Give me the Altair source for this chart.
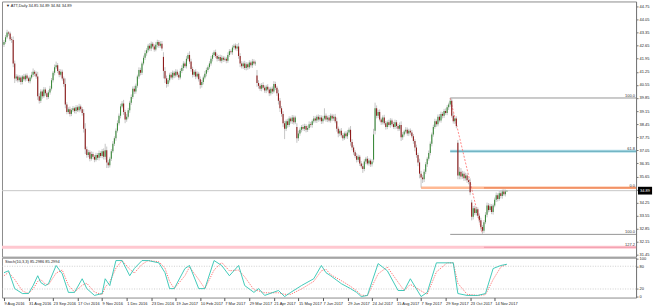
import json
import altair as alt
import pandas as pd

FONT = "Liberation Sans"

# ---------------- data ----------------
close = [
    42.85, 43.10, 43.35, 43.30, 43.00, 42.95, 41.70, 40.90, 41.00, 40.80,
    40.95, 40.70, 41.00, 40.85, 41.05, 40.90, 40.75, 40.95, 41.10, 41.25,
    41.15, 41.00, 39.95, 39.70, 40.20, 39.95, 40.30, 40.10, 39.90, 40.15,
    40.35, 40.80, 41.20, 41.50, 41.60, 41.30, 41.10, 41.25, 40.90, 40.60,
    39.50, 39.10, 39.25, 39.00, 39.20, 39.30, 39.15, 39.35, 39.20, 39.40,
    39.25, 39.05, 38.20, 37.10, 36.80, 36.95, 36.60, 36.85, 36.70, 36.55,
    36.80, 36.65, 36.90, 36.75, 37.00, 36.70, 37.05, 36.40, 36.25, 36.60,
    37.00, 37.40, 37.70, 38.10, 38.50, 38.90, 39.40, 39.55, 39.10, 38.70,
    38.85, 39.20, 39.60, 39.90, 40.35, 40.20, 40.50, 41.00, 41.35, 41.20,
    41.70, 42.00, 42.25, 42.40, 42.65, 42.50, 42.75, 42.60, 42.45, 42.70,
    42.85, 42.65, 42.75, 42.50, 41.30, 40.90, 40.60, 40.80, 41.10, 40.95,
    41.20, 41.05, 41.25, 41.10, 40.95, 41.30, 41.45, 41.70, 41.55, 41.95,
    42.15, 41.80, 41.40, 41.10, 41.25, 41.00, 41.15, 40.85, 40.55, 40.70,
    40.95, 41.15, 41.35, 41.50, 41.70, 41.95, 42.15, 42.30, 42.10, 41.95,
    42.05, 41.85, 42.00, 41.90, 41.95, 41.85, 42.15, 42.35, 42.30, 42.55,
    42.65, 42.50, 42.60, 42.10, 41.70, 41.55, 41.70, 41.45, 41.65, 41.50,
    41.75, 41.60, 41.80, 41.70, 41.75, 40.65, 40.50, 40.35, 40.55, 40.40,
    40.25, 40.45, 40.30, 40.10, 40.35, 40.20, 40.60, 40.40, 40.10, 39.70,
    39.30, 39.00, 38.50, 38.20, 38.60, 38.40, 38.75, 38.60, 38.80, 38.55,
    38.80, 37.70, 37.95, 38.15, 38.30, 38.20, 38.35, 38.15, 38.25, 38.45,
    38.40, 38.60, 38.75, 38.65, 38.85, 38.70, 38.80, 38.60, 38.75, 38.90,
    38.70, 38.80, 38.65, 38.90, 38.75, 38.85, 38.60, 38.20, 37.95, 38.10,
    37.85, 37.70, 37.95, 37.80, 38.00, 38.15, 37.50, 37.20, 36.95, 36.75,
    36.55, 36.70, 36.35, 36.20, 36.05, 36.45, 36.60, 36.35, 36.50, 36.30,
    36.45, 37.90, 39.30, 38.90, 39.10, 38.70, 38.55, 38.80, 38.50, 38.30,
    38.55, 38.40, 38.65, 38.45, 38.30, 38.55, 38.35, 38.20, 38.40, 37.75,
    37.90, 38.05, 38.15, 37.95, 38.10, 38.00, 37.80, 37.55, 37.20, 36.80,
    36.40, 35.80, 35.60, 35.50, 35.90, 36.30, 36.60, 36.90, 37.40, 37.90,
    38.30, 38.60, 38.45, 38.85, 38.65, 39.00, 38.90, 39.15, 39.05, 39.35,
    39.50, 39.70, 38.90, 38.60, 38.75, 38.35, 35.70, 35.90, 35.65, 35.80,
    35.55, 35.70, 35.45, 35.35, 34.80, 33.50, 33.95, 33.70, 33.90, 33.55,
    33.30, 32.95, 32.75, 33.20, 33.60, 34.10, 33.85, 34.05, 33.75, 34.10,
    34.40, 34.65, 34.45, 34.75, 34.60, 34.85, 34.70, 34.85, 34.89,
]

# upper / lower wick lengths in cents
wick_hi = [
    10, 12, 15, 8, 10, 12, 20, 15, 12, 10,
    12, 10, 8, 14, 10, 12, 9, 11, 15, 18,
    10, 12, 25, 15, 12, 10, 14, 12, 10, 12,
    15, 12, 10, 14, 20, 12, 10, 14, 12, 10,
    30, 12, 10, 14, 10, 12, 8, 12, 10, 14,
    10, 12, 20, 30, 15, 12, 10, 14, 12, 10,
    12, 10, 14, 10, 12, 15, 35, 20, 12, 10,
    12, 14, 10, 12, 15, 12, 14, 13, 20, 12,
    15, 12, 10, 14, 12, 15, 12, 10, 14, 12,
    10, 12, 15, 12, 10, 14, 12, 10, 12, 15,
    12, 10, 14, 15, 25, 20, 15, 12, 10, 14,
    12, 10, 14, 12, 10, 12, 15, 12, 10, 14,
    12, 20, 15, 12, 10, 14, 12, 10, 15, 12,
    10, 14, 12, 10, 12, 15, 12, 10, 14, 12,
    10, 12, 14, 10, 12, 10, 14, 12, 10, 12,
    10, 12, 14, 20, 15, 12, 10, 14, 12, 10,
    12, 10, 14, 12, 10, 30, 15, 12, 10, 14,
    12, 10, 14, 12, 10, 12, 15, 12, 10, 20,
    15, 12, 14, 12, 10, 14, 12, 10, 14, 12,
    10, 20, 15, 12, 10, 14, 12, 10, 12, 15,
    12, 10, 14, 12, 10, 12, 14, 12, 15, 40,
    12, 10, 14, 12, 10, 12, 15, 20, 12, 10,
    14, 12, 10, 12, 14, 12, 20, 15, 12, 10,
    14, 12, 10, 12, 14, 12, 10, 14, 12, 10,
    12, 30, 30, 15, 12, 14, 10, 12, 15, 12,
    10, 14, 12, 10, 12, 14, 12, 10, 14, 20,
    12, 10, 14, 12, 10, 12, 14, 12, 10, 15,
    12, 20, 15, 12, 14, 12, 10, 14, 12, 10,
    12, 14, 10, 12, 14, 12, 10, 12, 14, 12,
    10, 15, 12, 14, 10, 12, 15, 25, 20, 15,
    12, 15, 12, 14, 20, 15, 12, 14, 12, 10,
    12, 14, 10, 12, 14, 15, 12, 14, 12, 10,
    12, 14, 10, 12, 14, 10, 12, 10, 0,
]
wick_lo = [
    12, 10, 8, 12, 10, 15, 20, 25, 15, 12,
    10, 14, 12, 10, 12, 14, 10, 12, 10, 12,
    14, 12, 20, 15, 12, 14, 10, 12, 14, 10,
    12, 10, 12, 14, 10, 12, 14, 10, 12, 15,
    20, 12, 10, 14, 12, 10, 12, 14, 10, 12,
    12, 14, 20, 25, 15, 12, 14, 10, 12, 14,
    10, 12, 14, 10, 12, 14, 15, 30, 15, 12,
    12, 10, 12, 14, 10, 12, 14, 10, 15, 20,
    12, 10, 14, 12, 10, 14, 12, 10, 12, 14,
    12, 10, 12, 14, 10, 12, 14, 10, 12, 10,
    14, 12, 10, 12, 40, 25, 20, 14, 12, 10,
    12, 14, 10, 12, 14, 10, 12, 14, 10, 12,
    10, 12, 14, 15, 12, 14, 10, 12, 20, 14,
    12, 10, 14, 12, 10, 12, 14, 10, 12, 14,
    12, 10, 14, 12, 10, 14, 12, 10, 12, 14,
    12, 10, 14, 15, 20, 12, 14, 10, 12, 14,
    10, 12, 14, 10, 12, 20, 15, 12, 14, 10,
    12, 14, 10, 15, 12, 14, 10, 12, 14, 20,
    20, 15, 20, 55, 12, 14, 10, 12, 14, 12,
    10, 25, 15, 12, 14, 10, 12, 14, 12, 10,
    12, 14, 10, 12, 14, 12, 10, 14, 12, 10,
    12, 14, 10, 12, 14, 12, 10, 15, 20, 14,
    12, 14, 10, 12, 14, 12, 20, 15, 14, 12,
    15, 12, 14, 12, 21, 12, 14, 10, 12, 14,
    12, 15, 20, 14, 12, 10, 14, 12, 10, 14,
    12, 10, 14, 12, 10, 12, 14, 12, 10, 20,
    14, 12, 10, 12, 14, 12, 10, 15, 20, 15,
    20, 25, 55, 20, 15, 12, 14, 10, 12, 14,
    12, 10, 14, 12, 10, 12, 14, 12, 10, 12,
    14, 12, 10, 12, 14, 12, 20, 20, 15, 12,
    14, 12, 14, 12, 15, 20, 15, 12, 14, 12,
    15, 20, 17, 12, 10, 14, 12, 10, 12, 14,
    10, 12, 14, 10, 12, 14, 10, 12, 1,
]
first_open = 42.70
gap_open = {104: 42.05, 165: 41.05, 191: 38.30, 241: 36.55, 242: 38.10,
            296: 37.45, 305: 34.25}

date_labels = ["9 Aug 2016", "31 Aug 2016", "23 Sep 2016", "17 Oct 2016",
               "9 Nov 2016", "1 Dec 2016", "23 Dec 2016", "19 Jan 2017",
               "10 Feb 2017", "7 Mar 2017", "29 Mar 2017", "21 Apr 2017",
               "15 May 2017", "7 Jun 2017", "29 Jun 2017", "24 Jul 2017",
               "15 Aug 2017", "7 Sep 2017", "29 Sep 2017", "23 Oct 2017",
               "14 Nov 2017"]
label_step = 16

price_ticks = [44.75, 44.05, 43.35, 42.65, 41.95, 41.25, 40.55, 39.85, 39.15,
               38.45, 37.75, 37.05, 36.35, 35.65, 34.95, 34.25, 33.55, 32.85,
               32.15, 31.45]

fib_names = ["100.0", "61.8", "0.0", "100.0", "127.2"]
fib_prices = [39.85, 37.00, 35.04, 32.55, 31.86]
fib_start = [291, 291, 272, 291, -1.3]

trend_bars = [291, 312]
trend_prices = [39.85, 32.58]

stoch_idx = [0, 3, 7, 12, 16, 19, 22, 24, 27, 29, 34, 38, 42, 46, 51, 54, 59,
             64, 66, 69, 73, 77, 82, 85, 90, 94, 101, 105, 108, 111, 118, 121,
             127, 131, 137, 142, 147, 153, 157, 163, 166, 170, 179, 183, 187,
             194, 202, 207, 210, 213, 220, 226, 230, 233, 237, 244, 250, 257,
             261, 265, 272, 276, 282, 289, 293, 296, 302, 309, 314, 319, 324,
             328]
stoch_main = [63, 68, 21, 8, 8, 29, 55, 37, 29, 34, 82, 60, 11, 11, 47, 21, 3,
              8, 47, 29, 95, 95, 55, 74, 95, 95, 89, 63, 21, 21, 74, 82, 21,
              21, 95, 82, 55, 82, 29, 11, 21, 3, 16, 0, 11, 29, 47, 82, 63,
              55, 34, 21, 11, 0, 3, 87, 68, 16, 16, 47, 0, 11, 89, 89, 89, 8,
              3, 3, 8, 74, 82, 85.3]
stoch_signal = [55, 64, 45, 15, 8, 20, 40, 45, 33, 31, 62, 70, 30, 12, 30, 35,
                12, 5, 25, 38, 75, 95, 72, 62, 85, 95, 92, 75, 40, 21, 55, 78,
                45, 21, 70, 90, 68, 70, 52, 18, 15, 10, 10, 6, 6, 20, 40, 68,
                72, 58, 42, 27, 15, 4, 2, 60, 78, 38, 16, 32, 15, 6, 65, 89,
                89, 35, 6, 3, 5, 45, 78, 85.3]
stoch_levels = [80, 20]
stoch_ticks = [100, 80, 20, 0]
stoch_title = "Stoch(10,3,3) 85.2986 85.2994"
symbol = "ATT,Daily"

# ---------------- tables ----------------
rows = []
for i, c in enumerate(close):
    o = gap_open.get(i, close[i - 1] if i > 0 else first_open)
    rows.append(dict(i=i, o=o, c=c,
                     h=round(max(o, c) + wick_hi[i] / 100, 2),
                     l=round(min(o, c) - wick_lo[i] / 100, 2),
                     d="up" if c >= o else "down"))
bars = pd.DataFrame(rows)
last = bars.iloc[[-1]].copy()
lo_, hi_, ll_, cc_ = last.o.iloc[0], last.h.iloc[0], last.l.iloc[0], last.c.iloc[0]
title_df = pd.DataFrame({"t": [f"\u25BC {symbol}  {lo_:.2f} {hi_:.2f} {ll_:.2f} {cc_:.2f}"]})
last["lab"] = f"{cc_:.2f}"

fib = pd.DataFrame({"name": fib_names, "p": fib_prices, "s": fib_start})
fib["s2"] = trend_bars[1] + 1
trend = pd.DataFrame({"x1": [trend_bars[0]], "x2": [trend_bars[1]],
                      "y1": [trend_prices[0]], "y2": [trend_prices[1]]})
stoch = pd.DataFrame({"i": stoch_idx, "m": stoch_main, "s": stoch_signal})
levels = pd.DataFrame({"v": stoch_levels})
stitle = pd.DataFrame({"t": [stoch_title]})

# ---------------- scales / axes ----------------
W = 636
x_scale = alt.Scale(domain=[-1.3, 412.2], nice=False, zero=False)
y_main = alt.Scale(domain=[31.356, 45.017], nice=False, zero=False)
y_sto = alt.Scale(domain=[-2.6, 102.6], nice=False, zero=False)

yaxis = alt.Axis(orient="right", values=price_ticks, format=".2f",
                 labelFontSize=4, labelFont=FONT, labelColor="#222",
                 tickSize=2, tickColor="#777", domainColor="#777",
                 labelPadding=1, grid=False, title=None, labelFlush=False,
                 labelOverlap=False)
saxis = alt.Axis(orient="right", values=stoch_ticks, format="d",
                 labelFontSize=4, labelFont=FONT, labelColor="#222",
                 tickSize=2, tickColor="#777", domainColor="#777",
                 labelPadding=1, grid=False, title=None, labelFlush=False,
                 labelOverlap=False)
xaxis = alt.Axis(orient="bottom", values=list(range(0, label_step * len(date_labels), label_step)),
                 labelExpr=json.dumps(date_labels) + f"[round(datum.value/{label_step})]",
                 labelAlign="left", labelBaseline="top", labelFontSize=4,
                 labelFont=FONT, labelColor="#222", tickSize=3,
                 tickColor="#555", labelPadding=0.5, domain=False, grid=False,
                 title=None, labelFlush=False, labelOverlap=False)


def X(f):
    return alt.X(f, type="quantitative", scale=x_scale, axis=None)


def XS(f):
    return alt.X(f, type="quantitative", scale=x_scale, axis=xaxis)


def Y(f):
    return alt.Y(f, type="quantitative", scale=y_main, axis=yaxis)


def YS(f):
    return alt.Y(f, type="quantitative", scale=y_sto, axis=saxis)


pink = fib[fib.name == "127.2"]
orange = fib[fib.name == "0.0"]
teal = fib[fib.name == "61.8"]
gray = fib[fib.name == "100.0"]

layers = [
    alt.Chart(pink).mark_rule(color="#ffc8d0", strokeWidth=3).encode(y=Y("p")),
    alt.Chart(pink).mark_rule(color="#f09aaa", strokeWidth=1).encode(
        x=X("s2"), x2=alt.value(W), y=Y("p")),
    alt.Chart(last).mark_rule(color="#c8c8c8", strokeWidth=1).encode(y=Y("c")),
    alt.Chart(orange).mark_rule(color="#ffb994", strokeWidth=2.5).encode(
        x=X("s"), x2=alt.value(W), y=Y("p")),
    alt.Chart(orange).mark_rule(color="#ec8658", strokeWidth=1.2).encode(
        x=X("s2"), x2=alt.value(W), y=Y("p")),
    alt.Chart(teal).mark_rule(color="#b6e0ea", strokeWidth=3).encode(
        x=X("s"), x2=alt.value(W), y=Y("p")),
    alt.Chart(teal).mark_rule(color="#5aa6b6", strokeWidth=1).encode(
        x=X("s"), x2=alt.value(W), y=Y("p")),
    alt.Chart(gray).mark_rule(color="#8a8a8a", strokeWidth=0.9).encode(
        x=X("s"), x2=alt.value(W), y=Y("p")),
    alt.Chart(trend).mark_rule(color="#ff6b6b", strokeWidth=0.8,
                               strokeDash=[2, 1.5]).encode(
        x=X("x1"), x2="x2", y=Y("y1"), y2="y2"),
    alt.Chart(bars).mark_rule(color="#a0a0a0", strokeWidth=0.6).encode(
        x=X("i"), y=Y("l"), y2="h"),
    alt.Chart(bars).mark_rule(strokeWidth=1.1, strokeCap="butt").encode(
        x=X("i"), y=Y("o"), y2="c",
        color=alt.Color("d:N", scale=alt.Scale(domain=["up", "down"],
                                               range=["#3d8b3d", "#8e1c1c"]),
                        legend=None)),
    alt.Chart(fib).mark_text(align="right", baseline="bottom", dy=-0.3,
                             fontSize=4, font=FONT, color="#333").encode(
        x=alt.value(635), y=Y("p"), text="name:N"),
    alt.Chart(title_df).mark_text(align="left", baseline="middle", fontSize=4,
                                  font=FONT, color="#222").encode(
        x=alt.value(4), y=alt.value(5), text="t:N"),
    alt.Chart(last).mark_point(shape="M-1,-0.55H1V0.55H-1Z", size=200,
                               filled=True, color="#000", opacity=1,
                               strokeWidth=0).encode(x=alt.value(645), y=Y("c")),
    alt.Chart(last).mark_text(align="center", baseline="middle", fontSize=4,
                              font=FONT, color="#fff").encode(
        x=alt.value(645), y=Y("c"), text="lab:N"),
]
main = alt.layer(*layers).properties(width=W, height=256)

sto_layers = [
    alt.Chart(levels).mark_rule(color="#b8b8b8", strokeWidth=0.7,
                                strokeDash=[1, 1.5]).encode(y=YS("v")),
    alt.Chart(stoch).mark_line(color="#ff5050", strokeWidth=0.8,
                               strokeDash=[1.2, 1.2]).encode(x=XS("i"), y=YS("s")),
    alt.Chart(stoch).mark_line(color="#2ec4b2", strokeWidth=0.9).encode(
        x=XS("i"), y=YS("m")),
    alt.Chart(stitle).mark_text(align="left", baseline="middle", fontSize=4,
                                font=FONT, color="#222").encode(
        x=alt.value(3), y=alt.value(4), text="t:N"),
]
sto = alt.layer(*sto_layers).properties(width=W, height=40)

chart = alt.vconcat(main, sto, spacing=1, bounds="flush").resolve_scale(
    y="independent", color="independent").properties(
    padding=0, background="white").configure_view(stroke="#8c8c8c", strokeWidth=1)

chart.save("out.html", embed_options={"renderer": "svg", "actions": False})
